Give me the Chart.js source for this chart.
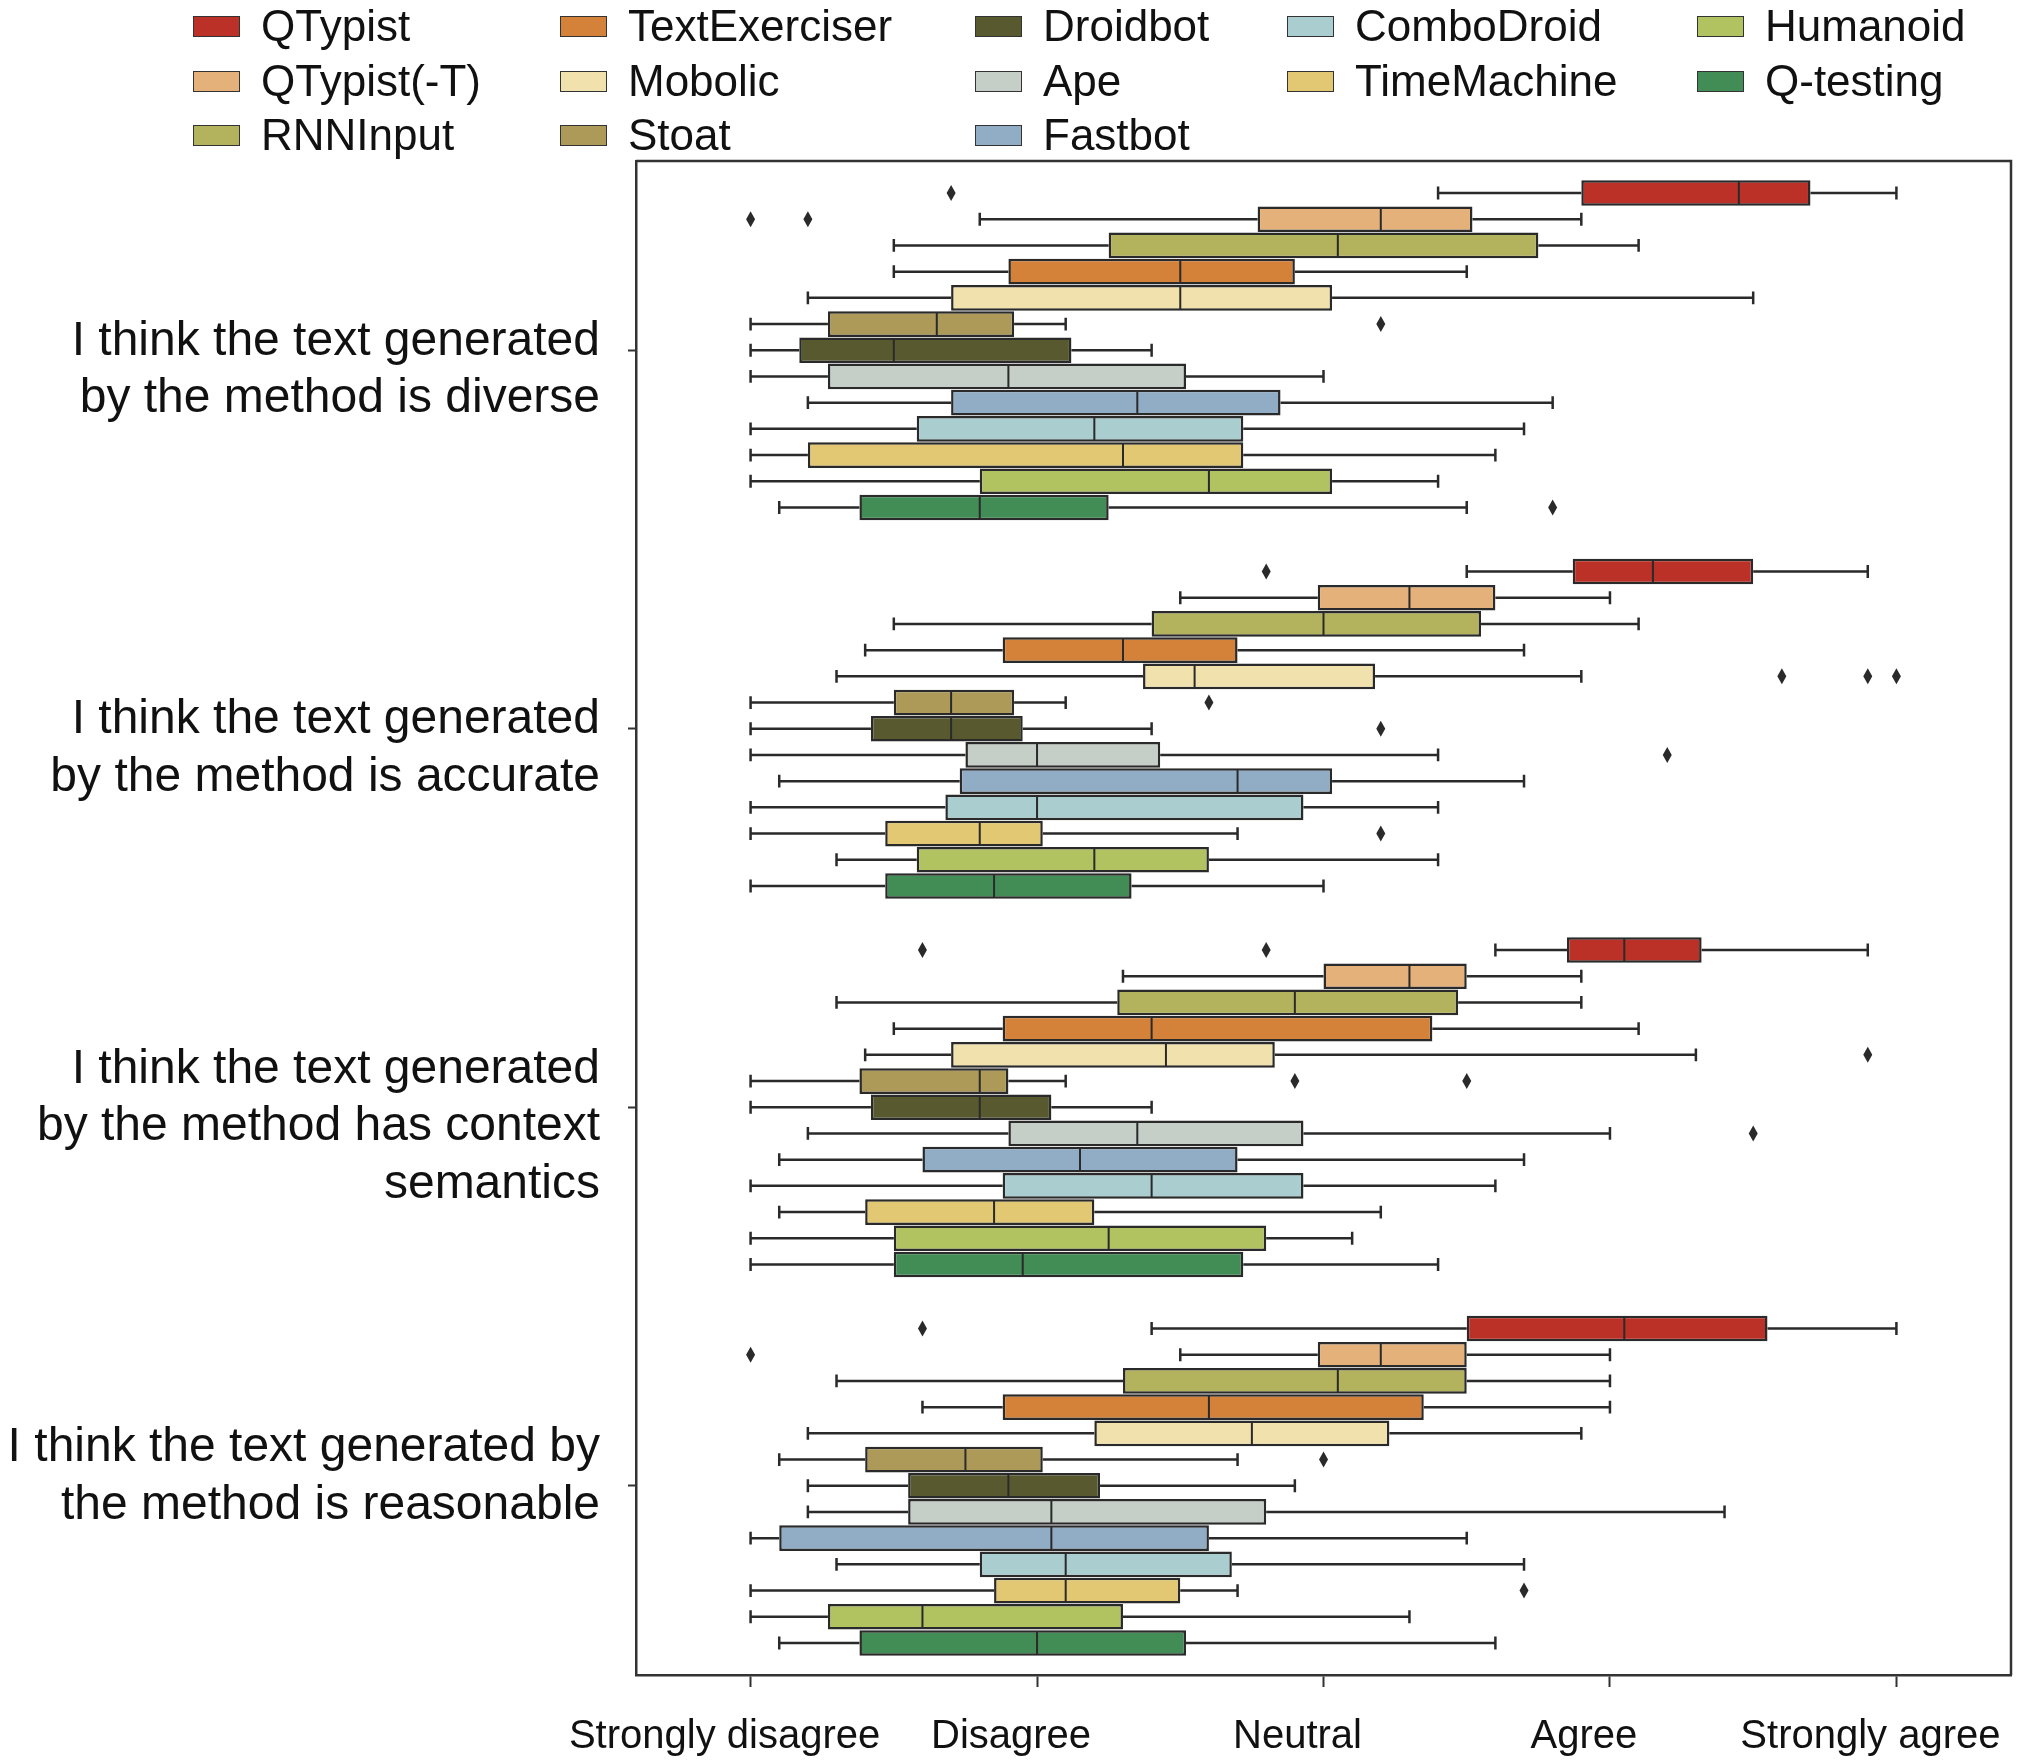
<!DOCTYPE html>
<html><head><meta charset="utf-8">
<script src="https://cdn.jsdelivr.net/npm/chart.js@4/dist/chart.umd.min.js"></script>
<style>
html,body{margin:0;padding:0;background:#fff;}
#wrap{position:relative;width:2018px;height:1760px;overflow:hidden;}
#c{position:absolute;left:0;top:0;width:2018px;height:1760px;}
#legend{position:absolute;left:0;top:0;width:2018px;height:160px;font-family:"Liberation Sans",Arial,sans-serif;font-size:44px;color:#111;}
.item{position:absolute;display:flex;align-items:center;height:50px;white-space:nowrap;}
.sw{width:45px;height:19px;border:1.5px solid #333;margin-right:21px;box-sizing:content-box;}
</style></head>
<body>
<div id="wrap">
<canvas id="c" width="2018" height="1760"></canvas>
<div id="legend"></div>
</div>
<script>
const questions = [
  ["I think the text generated", "by the method is diverse"],
  ["I think the text generated", "by the method is accurate"],
  ["I think the text generated", "by the method has context", "semantics"],
  ["I think the text generated by", "the method is reasonable", ""]
];
const tools = ["QTypist","QTypist(-T)","RNNInput","TextExerciser","Mobolic","Stoat","Droidbot","Ape","Fastbot","ComboDroid","TimeMachine","Humanoid","Q-testing"];
const colors = ["#bb3128","#e5b17b","#b3b25d","#d4823a","#f1e2ad","#ae9a58","#58592e","#c5cfc8","#91adc6","#aacdcf","#e3c873","#b1c261","#418d55"];
const xTickValues = [1, 2, 3, 4, 5];
const xTickLabels = ["Strongly disagree", "Disagree", "Neutral", "Agree", "Strongly agree"];

// per question, per tool
const whiskerLow = [
  [3.40, 1.80, 1.50, 1.50, 1.20, 1.00, 1.00, 1.00, 1.20, 1.00, 1.00, 1.00, 1.10],
  [3.50, 2.50, 1.50, 1.40, 1.30, 1.00, 1.00, 1.00, 1.10, 1.00, 1.00, 1.30, 1.00],
  [3.60, 2.30, 1.30, 1.50, 1.40, 1.00, 1.00, 1.20, 1.10, 1.00, 1.10, 1.00, 1.00],
  [2.40, 2.50, 1.30, 1.60, 1.20, 1.10, 1.20, 1.20, 1.00, 1.30, 1.00, 1.00, 1.10]
];
const quartile1 = [
  [3.90, 2.77, 2.25, 1.90, 1.70, 1.27, 1.17, 1.27, 1.70, 1.58, 1.20, 1.80, 1.38],
  [3.87, 2.98, 2.40, 1.88, 2.37, 1.50, 1.42, 1.75, 1.73, 1.68, 1.47, 1.58, 1.47],
  [3.85, 3.00, 2.28, 1.88, 1.70, 1.38, 1.42, 1.90, 1.60, 1.88, 1.40, 1.50, 1.50],
  [3.50, 2.98, 2.30, 1.88, 2.20, 1.40, 1.55, 1.55, 1.10, 1.80, 1.85, 1.27, 1.38]
];
const medians = [
  [4.45, 3.20, 3.05, 2.50, 2.50, 1.65, 1.50, 1.90, 2.35, 2.20, 2.30, 2.60, 1.80],
  [4.15, 3.30, 3.00, 2.30, 2.55, 1.70, 1.70, 2.00, 2.70, 2.00, 1.80, 2.20, 1.85],
  [4.05, 3.30, 2.90, 2.40, 2.45, 1.80, 1.80, 2.35, 2.15, 2.40, 1.85, 2.25, 1.95],
  [4.05, 3.20, 3.05, 2.60, 2.75, 1.75, 1.90, 2.05, 2.05, 2.10, 2.10, 1.60, 2.00]
];
const quartile3 = [
  [4.70, 3.52, 3.75, 2.90, 3.03, 1.92, 2.12, 2.52, 2.85, 2.72, 2.72, 3.03, 2.25],
  [4.50, 3.60, 3.55, 2.70, 3.18, 1.92, 1.95, 2.43, 3.03, 2.93, 2.02, 2.60, 2.33],
  [4.32, 3.50, 3.47, 3.38, 2.83, 1.90, 2.05, 2.93, 2.70, 2.93, 2.20, 2.80, 2.72],
  [4.55, 3.50, 3.50, 3.35, 3.23, 2.02, 2.22, 2.80, 2.60, 2.68, 2.50, 2.30, 2.52]
];
const whiskerHigh = [
  [5.00, 3.90, 4.10, 3.50, 4.50, 2.10, 2.40, 3.00, 3.80, 3.70, 3.60, 3.40, 3.50],
  [4.90, 4.00, 4.10, 3.70, 3.90, 2.10, 2.40, 3.40, 3.70, 3.40, 2.70, 3.40, 3.00],
  [4.90, 3.90, 3.90, 4.10, 4.30, 2.10, 2.40, 4.00, 3.70, 3.60, 3.20, 3.10, 3.40],
  [5.00, 4.00, 4.00, 4.00, 3.90, 2.70, 2.90, 4.40, 3.50, 3.70, 2.70, 3.30, 3.60]
];
const outliers = [
  [[1.70], [1.00, 1.20], [], [], [], [3.20], [], [], [], [], [], [], [3.80]],
  [[2.80], [], [], [], [4.60, 4.90, 5.00], [2.60], [3.20], [4.20], [], [], [3.20], [], []],
  [[1.60, 2.80], [], [], [], [4.90], [2.90, 3.50], [], [4.50], [], [], [], [], []],
  [[1.60], [1.00], [], [], [], [3.00], [], [], [], [], [3.70], [], []]
];

const FONT = '"Liberation Sans", Arial, sans-serif';
const LINE = '#2a2a2a';

// HTML legend (matplotlib-like column layout: 5 columns, 3 rows)
const colSizes = [3, 3, 3, 2, 2];
const colLeft = [193, 560, 975, 1287, 1697];
const rowCenter = [26, 81, 135];
(function buildLegend(){
  const lg = document.getElementById('legend');
  let idx = 0;
  colSizes.forEach((n, c) => {
    for (let r = 0; r < n; r++) {
      const i = idx++;
      const d = document.createElement('div');
      d.className = 'item';
      d.style.left = colLeft[c] + 'px';
      d.style.top = (rowCenter[r] - 25) + 'px';
      const sw = document.createElement('span');
      sw.className = 'sw';
      sw.style.background = colors[i];
      const tx = document.createElement('span');
      tx.textContent = tools[i];
      d.appendChild(sw); d.appendChild(tx);
      lg.appendChild(d);
    }
  });
})();

const datasets = tools.map((name, t) => ({
  label: name,
  data: questions.map((_, qi) => [quartile1[qi][t], quartile3[qi][t]]),
  backgroundColor: colors[t],
  borderColor: LINE,
  borderWidth: 2.5,
  borderSkipped: false,
  categoryPercentage: 0.9,
  barPercentage: 0.98
}));

const boxPlugin = {
  id: 'boxExtras',
  afterDatasetsDraw(chart) {
    const c = chart.ctx;
    const xs = chart.scales.x;
    c.save();
    c.strokeStyle = LINE;
    c.fillStyle = LINE;
    tools.forEach((_, t) => {
      const meta = chart.getDatasetMeta(t);
      meta.data.forEach((el, qi) => {
        const y = el.y, h = el.height;
        const pLo = xs.getPixelForValue(whiskerLow[qi][t]);
        const pQ1 = xs.getPixelForValue(quartile1[qi][t]);
        const pMed = xs.getPixelForValue(medians[qi][t]);
        const pQ3 = xs.getPixelForValue(quartile3[qi][t]);
        const pHi = xs.getPixelForValue(whiskerHigh[qi][t]);
        c.lineWidth = 2.5;
        c.beginPath();
        c.moveTo(pLo, y); c.lineTo(pQ1, y);
        c.moveTo(pQ3, y); c.lineTo(pHi, y);
        c.moveTo(pLo, y - h * 0.25); c.lineTo(pLo, y + h * 0.25);
        c.moveTo(pHi, y - h * 0.25); c.lineTo(pHi, y + h * 0.25);
        c.stroke();
        c.lineWidth = 2;
        c.beginPath();
        c.moveTo(pMed, y - h / 2 + 1); c.lineTo(pMed, y + h / 2 - 1);
        c.stroke();
        outliers[qi][t].forEach(v => {
          const px = xs.getPixelForValue(v);
          c.beginPath();
          c.moveTo(px, y - 8); c.lineTo(px + 4.5, y); c.lineTo(px, y + 8); c.lineTo(px - 4.5, y);
          c.closePath();
          c.fill();
        });
      });
    });
    // frame (top and right spines)
    const a = chart.chartArea;
    c.lineWidth = 2.5;
    c.strokeStyle = '#333';
    c.beginPath();
    c.moveTo(a.left, a.top); c.lineTo(a.right, a.top); c.lineTo(a.right, a.bottom);
    c.stroke();
    c.restore();
  }
};

new Chart(document.getElementById('c').getContext('2d'), {
  type: 'bar',
  data: { labels: questions, datasets },
  options: {
    indexAxis: 'y',
    responsive: false,
    animation: false,
    devicePixelRatio: 1,
    layout: { padding: { top: 161, right: 7, left: 0, bottom: 0 } },
    plugins: { legend: { display: false }, tooltip: { enabled: false } },
    scales: {
      x: {
        type: 'linear', position: 'bottom', min: 0.6, max: 5.4,
        afterBuildTicks: s => { s.ticks = xTickValues.map(v => ({ value: v })); },
        afterFit: s => { s.height = 85; s.paddingLeft = 0; s.paddingRight = 0; },
        ticks: {
          callback: v => xTickLabels[xTickValues.indexOf(v)],
          font: { size: 40, family: FONT }, color: '#111',
          padding: 26, labelOffset: -26, maxRotation: 0, autoSkip: false
        },
        grid: { drawOnChartArea: false, drawTicks: true, tickLength: 12, tickColor: '#333', tickWidth: 2 },
        border: { display: true, color: '#333', width: 2.5 }
      },
      y: {
        type: 'category', position: 'left',
        afterFit: s => { s.width = 636; s.paddingTop = 0; s.paddingBottom = 0; },
        ticks: {
          font: { size: 48, family: FONT, lineHeight: 1.2 }, color: '#111',
          padding: 28, labelOffset: 20, autoSkip: false
        },
        grid: { drawOnChartArea: false, drawTicks: true, offset: false, tickLength: 8, tickColor: '#333', tickWidth: 2 },
        border: { display: true, color: '#333', width: 2.5 }
      }
    }
  },
  plugins: [boxPlugin]
});
</script>
</body></html>
